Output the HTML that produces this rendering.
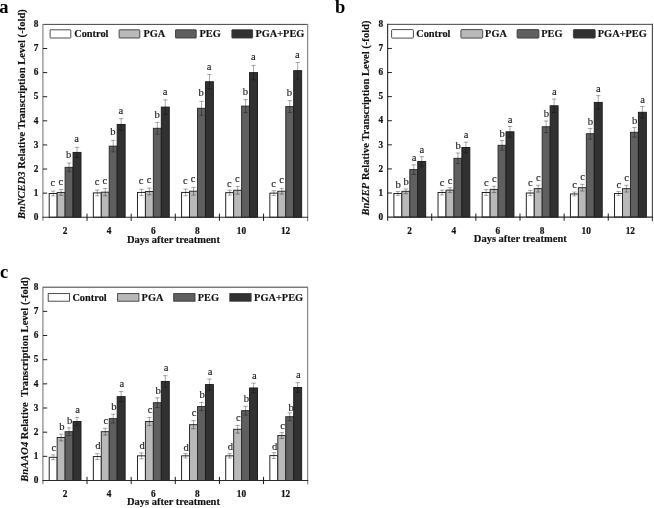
<!DOCTYPE html>
<html lang="en">
<head>
<meta charset="utf-8">
<title>Relative transcription levels</title>
<style>
html,body{margin:0;padding:0;background:#fff;}
body{width:654px;height:508px;overflow:hidden;}
svg{display:block;will-change:transform;}
text{font-family:"Liberation Serif",serif;fill:#111;}
.tk{font-size:9.3px;font-weight:bold;stroke:#111;stroke-width:0.2px;}
.lg{font-size:10.35px;font-weight:bold;stroke:#111;stroke-width:0.15px;}
.ax{font-size:10.5px;font-weight:bold;stroke:#111;stroke-width:0.15px;}
.yt{letter-spacing:0.03px;}
.sig{font-size:10.6px;text-anchor:middle;fill:#1a1a1a;stroke:#1a1a1a;stroke-width:0.12px;}
.pl{font-size:18.5px;font-weight:bold;fill:#000;}
</style>
</head>
<body>
<svg width="654" height="508" viewBox="0 0 654 508">
<rect width="654" height="508" fill="#fff"/>
<path d="M42.9 24.4H307.68" fill="none" stroke="#444" stroke-width="1"/>
<path d="M307.68 23.9V221.35" fill="none" stroke="#7a7a7a" stroke-width="1.1"/>
<rect x="49.2" y="193.51" width="7.95" height="23.74" fill="#ffffff" stroke="#1a1a1a" stroke-width="0.95"/>
<rect x="57.15" y="192.42" width="7.95" height="24.83" fill="#b9b9b9" stroke="#262626" stroke-width="0.95"/>
<rect x="65.1" y="167.35" width="7.95" height="49.9" fill="#5f5f5f" stroke="#2a2a2a" stroke-width="0.95"/>
<rect x="73.05" y="152.4" width="7.95" height="64.85" fill="#313131" stroke="#1c1c1c" stroke-width="0.95"/>
<path d="M53.17 191.09V195.92M50.97 191.09h4.4M50.97 195.92h4.4" fill="none" stroke="#000" stroke-opacity="0.45" stroke-width="0.75"/>
<text x="52.88" y="186.19" class="sig">c</text>
<path d="M61.12 189.53V195.31M58.92 189.53h4.4M58.92 195.31h4.4" fill="none" stroke="#000" stroke-opacity="0.45" stroke-width="0.75"/>
<text x="60.83" y="184.63" class="sig">c</text>
<path d="M69.07 163.01V171.69M66.87 163.01h4.4M66.87 171.69h4.4" fill="none" stroke="#000" stroke-opacity="0.45" stroke-width="0.75"/>
<text x="68.77" y="158.11" class="sig">b</text>
<path d="M77.02 147.34V157.47M74.82 147.34h4.4M74.82 157.47h4.4" fill="none" stroke="#000" stroke-opacity="0.45" stroke-width="0.75"/>
<text x="76.72" y="142.44" class="sig">a</text>
<rect x="93.33" y="192.9" width="7.95" height="24.35" fill="#ffffff" stroke="#1a1a1a" stroke-width="0.95"/>
<rect x="101.28" y="192.18" width="7.95" height="25.07" fill="#b9b9b9" stroke="#262626" stroke-width="0.95"/>
<rect x="109.23" y="146.14" width="7.95" height="71.11" fill="#5f5f5f" stroke="#2a2a2a" stroke-width="0.95"/>
<rect x="117.18" y="124.44" width="7.95" height="92.81" fill="#313131" stroke="#1c1c1c" stroke-width="0.95"/>
<path d="M97.3 190.01V195.8M95.1 190.01h4.4M95.1 195.8h4.4" fill="none" stroke="#000" stroke-opacity="0.45" stroke-width="0.75"/>
<text x="97" y="185.11" class="sig">c</text>
<path d="M105.25 188.56V195.8M103.05 188.56h4.4M103.05 195.8h4.4" fill="none" stroke="#000" stroke-opacity="0.45" stroke-width="0.75"/>
<text x="104.95" y="183.66" class="sig">c</text>
<path d="M113.2 140.35V151.92M111 140.35h4.4M111 151.92h4.4" fill="none" stroke="#000" stroke-opacity="0.45" stroke-width="0.75"/>
<text x="112.91" y="135.45" class="sig">b</text>
<path d="M121.16 118.66V130.23M118.95 118.66h4.4M118.95 130.23h4.4" fill="none" stroke="#000" stroke-opacity="0.45" stroke-width="0.75"/>
<text x="120.86" y="113.76" class="sig">a</text>
<rect x="137.46" y="192.42" width="7.95" height="24.83" fill="#ffffff" stroke="#1a1a1a" stroke-width="0.95"/>
<rect x="145.41" y="191.46" width="7.95" height="25.79" fill="#b9b9b9" stroke="#262626" stroke-width="0.95"/>
<rect x="153.36" y="128.3" width="7.95" height="88.95" fill="#5f5f5f" stroke="#2a2a2a" stroke-width="0.95"/>
<rect x="161.31" y="107.08" width="7.95" height="110.17" fill="#313131" stroke="#1c1c1c" stroke-width="0.95"/>
<path d="M141.44 189.29V195.55M139.24 189.29h4.4M139.24 195.55h4.4" fill="none" stroke="#000" stroke-opacity="0.45" stroke-width="0.75"/>
<text x="141.13" y="184.39" class="sig">c</text>
<path d="M149.38 188.08V194.83M147.19 188.08h4.4M147.19 194.83h4.4" fill="none" stroke="#000" stroke-opacity="0.45" stroke-width="0.75"/>
<text x="149.08" y="183.18" class="sig">c</text>
<path d="M157.34 122.51V134.08M155.14 122.51h4.4M155.14 134.08h4.4" fill="none" stroke="#000" stroke-opacity="0.45" stroke-width="0.75"/>
<text x="157.03" y="117.61" class="sig">b</text>
<path d="M165.28 99.85V114.32M163.09 99.85h4.4M163.09 114.32h4.4" fill="none" stroke="#000" stroke-opacity="0.45" stroke-width="0.75"/>
<text x="164.98" y="94.95" class="sig">a</text>
<rect x="181.59" y="192.42" width="7.95" height="24.83" fill="#ffffff" stroke="#1a1a1a" stroke-width="0.95"/>
<rect x="189.54" y="191.22" width="7.95" height="26.03" fill="#b9b9b9" stroke="#262626" stroke-width="0.95"/>
<rect x="197.49" y="108.29" width="7.95" height="108.96" fill="#5f5f5f" stroke="#2a2a2a" stroke-width="0.95"/>
<rect x="205.44" y="81.77" width="7.95" height="135.48" fill="#313131" stroke="#1c1c1c" stroke-width="0.95"/>
<path d="M185.57 189.05V195.8M183.37 189.05h4.4M183.37 195.8h4.4" fill="none" stroke="#000" stroke-opacity="0.45" stroke-width="0.75"/>
<text x="185.27" y="184.15" class="sig">c</text>
<path d="M193.52 187.36V195.07M191.32 187.36h4.4M191.32 195.07h4.4" fill="none" stroke="#000" stroke-opacity="0.45" stroke-width="0.75"/>
<text x="193.22" y="182.46" class="sig">c</text>
<path d="M201.47 101.3V115.28M199.27 101.3h4.4M199.27 115.28h4.4" fill="none" stroke="#000" stroke-opacity="0.45" stroke-width="0.75"/>
<text x="201.17" y="96.4" class="sig">b</text>
<path d="M209.42 74.54V89M207.22 74.54h4.4M207.22 89h4.4" fill="none" stroke="#000" stroke-opacity="0.45" stroke-width="0.75"/>
<text x="209.12" y="69.64" class="sig">a</text>
<rect x="225.72" y="192.66" width="7.95" height="24.59" fill="#ffffff" stroke="#1a1a1a" stroke-width="0.95"/>
<rect x="233.67" y="190.25" width="7.95" height="27" fill="#b9b9b9" stroke="#262626" stroke-width="0.95"/>
<rect x="241.62" y="106.12" width="7.95" height="111.13" fill="#5f5f5f" stroke="#2a2a2a" stroke-width="0.95"/>
<rect x="249.57" y="72.61" width="7.95" height="144.64" fill="#313131" stroke="#1c1c1c" stroke-width="0.95"/>
<path d="M229.7 190.25V195.07M227.5 190.25h4.4M227.5 195.07h4.4" fill="none" stroke="#000" stroke-opacity="0.45" stroke-width="0.75"/>
<text x="229.4" y="186.55" class="sig">c</text>
<path d="M237.65 186.39V194.11M235.45 186.39h4.4M235.45 194.11h4.4" fill="none" stroke="#000" stroke-opacity="0.45" stroke-width="0.75"/>
<text x="237.34" y="182.49" class="sig">c</text>
<path d="M245.6 99.61V112.63M243.4 99.61h4.4M243.4 112.63h4.4" fill="none" stroke="#000" stroke-opacity="0.45" stroke-width="0.75"/>
<text x="245.3" y="94.71" class="sig">b</text>
<path d="M253.55 65.38V79.84M251.35 65.38h4.4M251.35 79.84h4.4" fill="none" stroke="#000" stroke-opacity="0.45" stroke-width="0.75"/>
<text x="253.25" y="60.48" class="sig">a</text>
<rect x="269.85" y="193.14" width="7.95" height="24.11" fill="#ffffff" stroke="#1a1a1a" stroke-width="0.95"/>
<rect x="277.8" y="191.22" width="7.95" height="26.03" fill="#b9b9b9" stroke="#262626" stroke-width="0.95"/>
<rect x="285.75" y="106.6" width="7.95" height="110.65" fill="#5f5f5f" stroke="#2a2a2a" stroke-width="0.95"/>
<rect x="293.7" y="70.68" width="7.95" height="146.57" fill="#313131" stroke="#1c1c1c" stroke-width="0.95"/>
<path d="M273.83 190.73V195.55M271.63 190.73h4.4M271.63 195.55h4.4" fill="none" stroke="#000" stroke-opacity="0.45" stroke-width="0.75"/>
<text x="273.53" y="186.73" class="sig">c</text>
<path d="M281.78 188.32V194.11M279.58 188.32h4.4M279.58 194.11h4.4" fill="none" stroke="#000" stroke-opacity="0.45" stroke-width="0.75"/>
<text x="281.48" y="183.42" class="sig">c</text>
<path d="M289.73 100.58V112.63M287.53 100.58h4.4M287.53 112.63h4.4" fill="none" stroke="#000" stroke-opacity="0.45" stroke-width="0.75"/>
<text x="289.43" y="95.68" class="sig">b</text>
<path d="M297.68 62.49V78.88M295.48 62.49h4.4M295.48 78.88h4.4" fill="none" stroke="#000" stroke-opacity="0.45" stroke-width="0.75"/>
<text x="297.38" y="57.59" class="sig">a</text>
<path d="M42.9 23.9V220.85" fill="none" stroke="#858585" stroke-width="1.2"/>
<path d="M42.4 217.25H308.18" fill="none" stroke="#2b2b2b" stroke-width="1.1"/>
<text x="38.4" y="219.95" class="tk" text-anchor="end">0</text>
<path d="M42.9 193.14h4.3" stroke="#222" stroke-width="1"/>
<text x="38.4" y="195.84" class="tk" text-anchor="end">1</text>
<path d="M42.9 169.04h4.3" stroke="#222" stroke-width="1"/>
<text x="38.4" y="171.74" class="tk" text-anchor="end">2</text>
<path d="M42.9 144.93h4.3" stroke="#222" stroke-width="1"/>
<text x="38.4" y="147.63" class="tk" text-anchor="end">3</text>
<path d="M42.9 120.83h4.3" stroke="#222" stroke-width="1"/>
<text x="38.4" y="123.53" class="tk" text-anchor="end">4</text>
<path d="M42.9 96.72h4.3" stroke="#222" stroke-width="1"/>
<text x="38.4" y="99.42" class="tk" text-anchor="end">5</text>
<path d="M42.9 72.61h4.3" stroke="#222" stroke-width="1"/>
<text x="38.4" y="75.31" class="tk" text-anchor="end">6</text>
<path d="M42.9 48.51h4.3" stroke="#222" stroke-width="1"/>
<text x="38.4" y="51.21" class="tk" text-anchor="end">7</text>
<text x="38.4" y="27.1" class="tk" text-anchor="end">8</text>
<path d="M87.03 213.65V220.85" stroke="#1a1a1a" stroke-width="1"/>
<path d="M131.16 213.65V220.85" stroke="#1a1a1a" stroke-width="1"/>
<path d="M175.29 213.65V220.85" stroke="#1a1a1a" stroke-width="1"/>
<path d="M219.42 213.65V220.85" stroke="#1a1a1a" stroke-width="1"/>
<path d="M263.55 213.65V220.85" stroke="#1a1a1a" stroke-width="1"/>
<text x="64.97" y="233.85" class="tk" text-anchor="middle">2</text>
<text x="109.09" y="233.85" class="tk" text-anchor="middle">4</text>
<text x="153.22" y="233.85" class="tk" text-anchor="middle">6</text>
<text x="197.36" y="233.85" class="tk" text-anchor="middle">8</text>
<text x="241.49" y="233.85" class="tk" text-anchor="middle">10</text>
<text x="285.62" y="233.85" class="tk" text-anchor="middle">12</text>
<text x="173.49" y="242.65" class="ax" text-anchor="middle">Days after treatment</text>
<text transform="translate(25.2 218.95) rotate(-90)" class="ax yt" xml:space="preserve"><tspan font-style="italic">BnNCED3</tspan> Relative Transcription Level (-fold)</text>
<rect x="50.1" y="29.8" width="20.7" height="8.2" rx="0.4" fill="#ffffff" stroke="#3a3a3a" stroke-width="0.9"/>
<text x="74.2" y="37.3" class="lg">Control</text>
<rect x="119.1" y="29.8" width="20.7" height="8.2" rx="0.4" fill="#b9b9b9" stroke="#3a3a3a" stroke-width="0.9"/>
<text x="143.5" y="37.3" class="lg">PGA</text>
<rect x="175.5" y="29.8" width="20.7" height="8.2" rx="0.4" fill="#5f5f5f" stroke="#3a3a3a" stroke-width="0.9"/>
<text x="199.5" y="37.3" class="lg">PEG</text>
<rect x="231.9" y="29.8" width="20.7" height="8.2" rx="0.4" fill="#313131" stroke="#3a3a3a" stroke-width="0.9"/>
<text x="255.4" y="37.3" class="lg">PGA+PEG</text>
<text x="-0.7" y="13.2" class="pl">a</text>
<path d="M387.6 24.35H652.38" fill="none" stroke="#444" stroke-width="1"/>
<path d="M652.38 23.85V221.2" fill="none" stroke="#444" stroke-width="1.1"/>
<rect x="393.9" y="193.49" width="7.95" height="23.61" fill="#ffffff" stroke="#1a1a1a" stroke-width="0.95"/>
<rect x="401.85" y="191.32" width="7.95" height="25.78" fill="#b9b9b9" stroke="#262626" stroke-width="0.95"/>
<rect x="409.8" y="169.64" width="7.95" height="47.46" fill="#5f5f5f" stroke="#2a2a2a" stroke-width="0.95"/>
<rect x="417.75" y="161.44" width="7.95" height="55.66" fill="#313131" stroke="#1c1c1c" stroke-width="0.95"/>
<path d="M397.88 191.56V195.42M395.68 191.56h4.4M395.68 195.42h4.4" fill="none" stroke="#000" stroke-opacity="0.45" stroke-width="0.75"/>
<text x="398.08" y="187.66" class="sig">b</text>
<path d="M405.83 188.91V193.73M403.63 188.91h4.4M403.63 193.73h4.4" fill="none" stroke="#000" stroke-opacity="0.45" stroke-width="0.75"/>
<text x="406.03" y="185.01" class="sig">b</text>
<path d="M413.78 164.82V174.45M411.58 164.82h4.4M411.58 174.45h4.4" fill="none" stroke="#000" stroke-opacity="0.45" stroke-width="0.75"/>
<text x="413.98" y="160.92" class="sig">a</text>
<path d="M421.73 156.62V166.26M419.53 156.62h4.4M419.53 166.26h4.4" fill="none" stroke="#000" stroke-opacity="0.45" stroke-width="0.75"/>
<text x="421.93" y="152.72" class="sig">a</text>
<rect x="438.03" y="192.52" width="7.95" height="24.58" fill="#ffffff" stroke="#1a1a1a" stroke-width="0.95"/>
<rect x="445.98" y="190.11" width="7.95" height="26.99" fill="#b9b9b9" stroke="#262626" stroke-width="0.95"/>
<rect x="453.93" y="158.31" width="7.95" height="58.79" fill="#5f5f5f" stroke="#2a2a2a" stroke-width="0.95"/>
<rect x="461.88" y="147.47" width="7.95" height="69.63" fill="#313131" stroke="#1c1c1c" stroke-width="0.95"/>
<path d="M442.01 190.11V194.93M439.81 190.11h4.4M439.81 194.93h4.4" fill="none" stroke="#000" stroke-opacity="0.45" stroke-width="0.75"/>
<text x="442.21" y="186.21" class="sig">c</text>
<path d="M449.96 187.71V192.52M447.76 187.71h4.4M447.76 192.52h4.4" fill="none" stroke="#000" stroke-opacity="0.45" stroke-width="0.75"/>
<text x="450.16" y="183.81" class="sig">c</text>
<path d="M457.91 153.01V163.61M455.71 153.01h4.4M455.71 163.61h4.4" fill="none" stroke="#000" stroke-opacity="0.45" stroke-width="0.75"/>
<text x="458.11" y="149.11" class="sig">b</text>
<path d="M465.86 142.17V152.77M463.66 142.17h4.4M463.66 152.77h4.4" fill="none" stroke="#000" stroke-opacity="0.45" stroke-width="0.75"/>
<text x="466.06" y="138.27" class="sig">a</text>
<rect x="482.16" y="192.52" width="7.95" height="24.58" fill="#ffffff" stroke="#1a1a1a" stroke-width="0.95"/>
<rect x="490.11" y="189.39" width="7.95" height="27.71" fill="#b9b9b9" stroke="#262626" stroke-width="0.95"/>
<rect x="498.06" y="145.3" width="7.95" height="71.8" fill="#5f5f5f" stroke="#2a2a2a" stroke-width="0.95"/>
<rect x="506.01" y="131.81" width="7.95" height="85.29" fill="#313131" stroke="#1c1c1c" stroke-width="0.95"/>
<path d="M486.14 189.63V195.42M483.94 189.63h4.4M483.94 195.42h4.4" fill="none" stroke="#000" stroke-opacity="0.45" stroke-width="0.75"/>
<text x="486.34" y="185.73" class="sig">c</text>
<path d="M494.09 186.26V192.52M491.89 186.26h4.4M491.89 192.52h4.4" fill="none" stroke="#000" stroke-opacity="0.45" stroke-width="0.75"/>
<text x="494.29" y="182.36" class="sig">c</text>
<path d="M502.04 140.48V150.12M499.84 140.48h4.4M499.84 150.12h4.4" fill="none" stroke="#000" stroke-opacity="0.45" stroke-width="0.75"/>
<text x="502.24" y="136.58" class="sig">b</text>
<path d="M509.99 126.51V137.11M507.79 126.51h4.4M507.79 137.11h4.4" fill="none" stroke="#000" stroke-opacity="0.45" stroke-width="0.75"/>
<text x="510.19" y="122.61" class="sig">a</text>
<rect x="526.29" y="193.01" width="7.95" height="24.09" fill="#ffffff" stroke="#1a1a1a" stroke-width="0.95"/>
<rect x="534.24" y="188.67" width="7.95" height="28.43" fill="#b9b9b9" stroke="#262626" stroke-width="0.95"/>
<rect x="542.19" y="126.75" width="7.95" height="90.35" fill="#5f5f5f" stroke="#2a2a2a" stroke-width="0.95"/>
<rect x="550.14" y="105.79" width="7.95" height="111.31" fill="#313131" stroke="#1c1c1c" stroke-width="0.95"/>
<path d="M530.26 190.36V195.66M528.06 190.36h4.4M528.06 195.66h4.4" fill="none" stroke="#000" stroke-opacity="0.45" stroke-width="0.75"/>
<text x="530.47" y="186.46" class="sig">c</text>
<path d="M538.22 185.3V192.04M536.01 185.3h4.4M536.01 192.04h4.4" fill="none" stroke="#000" stroke-opacity="0.45" stroke-width="0.75"/>
<text x="538.42" y="181.4" class="sig">c</text>
<path d="M546.16 120.97V132.53M543.96 120.97h4.4M543.96 132.53h4.4" fill="none" stroke="#000" stroke-opacity="0.45" stroke-width="0.75"/>
<text x="546.37" y="117.07" class="sig">b</text>
<path d="M554.12 99.04V112.53M551.91 99.04h4.4M551.91 112.53h4.4" fill="none" stroke="#000" stroke-opacity="0.45" stroke-width="0.75"/>
<text x="554.32" y="95.14" class="sig">a</text>
<rect x="570.42" y="193.97" width="7.95" height="23.13" fill="#ffffff" stroke="#1a1a1a" stroke-width="0.95"/>
<rect x="578.37" y="187.71" width="7.95" height="29.39" fill="#b9b9b9" stroke="#262626" stroke-width="0.95"/>
<rect x="586.32" y="133.74" width="7.95" height="83.36" fill="#5f5f5f" stroke="#2a2a2a" stroke-width="0.95"/>
<rect x="594.27" y="102.41" width="7.95" height="114.69" fill="#313131" stroke="#1c1c1c" stroke-width="0.95"/>
<path d="M574.39 192.04V195.9M572.19 192.04h4.4M572.19 195.9h4.4" fill="none" stroke="#000" stroke-opacity="0.45" stroke-width="0.75"/>
<text x="574.6" y="188.14" class="sig">c</text>
<path d="M582.35 184.33V191.08M580.14 184.33h4.4M580.14 191.08h4.4" fill="none" stroke="#000" stroke-opacity="0.45" stroke-width="0.75"/>
<text x="582.55" y="180.43" class="sig">c</text>
<path d="M590.29 128.44V139.04M588.09 128.44h4.4M588.09 139.04h4.4" fill="none" stroke="#000" stroke-opacity="0.45" stroke-width="0.75"/>
<text x="590.5" y="124.53" class="sig">b</text>
<path d="M598.25 95.67V109.16M596.04 95.67h4.4M596.04 109.16h4.4" fill="none" stroke="#000" stroke-opacity="0.45" stroke-width="0.75"/>
<text x="598.45" y="91.77" class="sig">a</text>
<rect x="614.55" y="193.49" width="7.95" height="23.61" fill="#ffffff" stroke="#1a1a1a" stroke-width="0.95"/>
<rect x="622.5" y="188.67" width="7.95" height="28.43" fill="#b9b9b9" stroke="#262626" stroke-width="0.95"/>
<rect x="630.45" y="132.29" width="7.95" height="84.81" fill="#5f5f5f" stroke="#2a2a2a" stroke-width="0.95"/>
<rect x="638.4" y="112.29" width="7.95" height="104.81" fill="#313131" stroke="#1c1c1c" stroke-width="0.95"/>
<path d="M618.52 191.56V195.42M616.32 191.56h4.4M616.32 195.42h4.4" fill="none" stroke="#000" stroke-opacity="0.45" stroke-width="0.75"/>
<text x="618.73" y="187.66" class="sig">c</text>
<path d="M626.48 185.3V192.04M624.27 185.3h4.4M624.27 192.04h4.4" fill="none" stroke="#000" stroke-opacity="0.45" stroke-width="0.75"/>
<text x="626.68" y="181.4" class="sig">c</text>
<path d="M634.42 127.47V137.11M632.22 127.47h4.4M632.22 137.11h4.4" fill="none" stroke="#000" stroke-opacity="0.45" stroke-width="0.75"/>
<text x="634.62" y="123.57" class="sig">b</text>
<path d="M642.38 106.51V118.07M640.17 106.51h4.4M640.17 118.07h4.4" fill="none" stroke="#000" stroke-opacity="0.45" stroke-width="0.75"/>
<text x="642.58" y="102.61" class="sig">a</text>
<path d="M387.6 23.85V220.7" fill="none" stroke="#3a3a3a" stroke-width="1.2"/>
<path d="M387.1 217.1H652.88" fill="none" stroke="#2b2b2b" stroke-width="1.1"/>
<text x="383.1" y="219.8" class="tk" text-anchor="end">0</text>
<path d="M387.6 193.01h4.3" stroke="#222" stroke-width="1"/>
<text x="383.1" y="195.71" class="tk" text-anchor="end">1</text>
<path d="M387.6 168.91h4.3" stroke="#222" stroke-width="1"/>
<text x="383.1" y="171.61" class="tk" text-anchor="end">2</text>
<path d="M387.6 144.82h4.3" stroke="#222" stroke-width="1"/>
<text x="383.1" y="147.52" class="tk" text-anchor="end">3</text>
<path d="M387.6 120.72h4.3" stroke="#222" stroke-width="1"/>
<text x="383.1" y="123.42" class="tk" text-anchor="end">4</text>
<path d="M387.6 96.63h4.3" stroke="#222" stroke-width="1"/>
<text x="383.1" y="99.33" class="tk" text-anchor="end">5</text>
<path d="M387.6 72.54h4.3" stroke="#222" stroke-width="1"/>
<text x="383.1" y="75.24" class="tk" text-anchor="end">6</text>
<path d="M387.6 48.44h4.3" stroke="#222" stroke-width="1"/>
<text x="383.1" y="51.14" class="tk" text-anchor="end">7</text>
<text x="383.1" y="27.05" class="tk" text-anchor="end">8</text>
<path d="M431.73 213.5V220.7" stroke="#1a1a1a" stroke-width="1"/>
<path d="M475.86 213.5V220.7" stroke="#1a1a1a" stroke-width="1"/>
<path d="M519.99 213.5V220.7" stroke="#1a1a1a" stroke-width="1"/>
<path d="M564.12 213.5V220.7" stroke="#1a1a1a" stroke-width="1"/>
<path d="M608.25 213.5V220.7" stroke="#1a1a1a" stroke-width="1"/>
<text x="409.67" y="233.7" class="tk" text-anchor="middle">2</text>
<text x="453.8" y="233.7" class="tk" text-anchor="middle">4</text>
<text x="497.93" y="233.7" class="tk" text-anchor="middle">6</text>
<text x="542.06" y="233.7" class="tk" text-anchor="middle">8</text>
<text x="586.19" y="233.7" class="tk" text-anchor="middle">10</text>
<text x="630.32" y="233.7" class="tk" text-anchor="middle">12</text>
<text x="520.29" y="242.2" class="ax" text-anchor="middle">Days after treatment</text>
<text transform="translate(369.1 215.6) rotate(-90)" class="ax yt" xml:space="preserve"><tspan font-style="italic">BnZEP</tspan> Relative Transcription Level (-fold)</text>
<rect x="391.6" y="29.6" width="21.8" height="8.5" rx="0.8" fill="#ffffff" stroke="#3a3a3a" stroke-width="0.9"/>
<text x="416.2" y="37.2" class="lg">Control</text>
<rect x="460.9" y="29.6" width="21.8" height="8.5" rx="0.8" fill="#b9b9b9" stroke="#3a3a3a" stroke-width="0.9"/>
<text x="485.1" y="37.2" class="lg">PGA</text>
<rect x="517.1" y="29.6" width="21.8" height="8.5" rx="0.8" fill="#5f5f5f" stroke="#3a3a3a" stroke-width="0.9"/>
<text x="541.3" y="37.2" class="lg">PEG</text>
<rect x="573.4" y="29.6" width="21.8" height="8.5" rx="0.8" fill="#313131" stroke="#3a3a3a" stroke-width="0.9"/>
<text x="597.8" y="37.2" class="lg">PGA+PEG</text>
<text x="335" y="13.2" class="pl">b</text>
<path d="M42.9 287.2H307.68" fill="none" stroke="#3c3c3c" stroke-width="1"/>
<path d="M307.68 286.7V484.6" fill="none" stroke="#7a7a7a" stroke-width="1.1"/>
<rect x="49.2" y="457.3" width="7.95" height="23.2" fill="#ffffff" stroke="#1a1a1a" stroke-width="0.95"/>
<rect x="57.15" y="437.49" width="7.95" height="43.01" fill="#b9b9b9" stroke="#262626" stroke-width="0.95"/>
<rect x="65.1" y="431.69" width="7.95" height="48.81" fill="#5f5f5f" stroke="#2a2a2a" stroke-width="0.95"/>
<rect x="73.05" y="421.54" width="7.95" height="58.96" fill="#313131" stroke="#1c1c1c" stroke-width="0.95"/>
<path d="M53.17 454.89V459.72M50.97 454.89h4.4M50.97 459.72h4.4" fill="none" stroke="#000" stroke-opacity="0.45" stroke-width="0.75"/>
<text x="53.88" y="450.59" class="sig">c</text>
<path d="M61.12 434.11V440.87M58.92 434.11h4.4M58.92 440.87h4.4" fill="none" stroke="#000" stroke-opacity="0.45" stroke-width="0.75"/>
<text x="61.83" y="429.81" class="sig">b</text>
<path d="M69.07 427.83V435.56M66.87 427.83h4.4M66.87 435.56h4.4" fill="none" stroke="#000" stroke-opacity="0.45" stroke-width="0.75"/>
<text x="69.77" y="423.53" class="sig">b</text>
<path d="M77.02 417.44V425.65M74.82 417.44h4.4M74.82 425.65h4.4" fill="none" stroke="#000" stroke-opacity="0.45" stroke-width="0.75"/>
<text x="77.72" y="413.14" class="sig">a</text>
<rect x="93.33" y="456.58" width="7.95" height="23.92" fill="#ffffff" stroke="#1a1a1a" stroke-width="0.95"/>
<rect x="101.28" y="431.69" width="7.95" height="48.81" fill="#b9b9b9" stroke="#262626" stroke-width="0.95"/>
<rect x="109.23" y="418.64" width="7.95" height="61.86" fill="#5f5f5f" stroke="#2a2a2a" stroke-width="0.95"/>
<rect x="117.18" y="396.66" width="7.95" height="83.84" fill="#313131" stroke="#1c1c1c" stroke-width="0.95"/>
<path d="M97.3 453.68V459.48M95.1 453.68h4.4M95.1 459.48h4.4" fill="none" stroke="#000" stroke-opacity="0.45" stroke-width="0.75"/>
<text x="98" y="449.38" class="sig">d</text>
<path d="M105.25 428.31V435.07M103.05 428.31h4.4M103.05 435.07h4.4" fill="none" stroke="#000" stroke-opacity="0.45" stroke-width="0.75"/>
<text x="105.95" y="424.01" class="sig">c</text>
<path d="M113.2 414.29V422.99M111 414.29h4.4M111 422.99h4.4" fill="none" stroke="#000" stroke-opacity="0.45" stroke-width="0.75"/>
<text x="113.91" y="409.99" class="sig">b</text>
<path d="M121.16 391.58V401.73M118.95 391.58h4.4M118.95 401.73h4.4" fill="none" stroke="#000" stroke-opacity="0.45" stroke-width="0.75"/>
<text x="121.86" y="387.28" class="sig">a</text>
<rect x="137.46" y="455.85" width="7.95" height="24.65" fill="#ffffff" stroke="#1a1a1a" stroke-width="0.95"/>
<rect x="145.41" y="421.54" width="7.95" height="58.96" fill="#b9b9b9" stroke="#262626" stroke-width="0.95"/>
<rect x="153.36" y="402.7" width="7.95" height="77.8" fill="#5f5f5f" stroke="#2a2a2a" stroke-width="0.95"/>
<rect x="161.31" y="381.43" width="7.95" height="99.07" fill="#313131" stroke="#1c1c1c" stroke-width="0.95"/>
<path d="M141.44 452.95V458.75M139.24 452.95h4.4M139.24 458.75h4.4" fill="none" stroke="#000" stroke-opacity="0.45" stroke-width="0.75"/>
<text x="142.13" y="448.65" class="sig">d</text>
<path d="M149.38 417.44V425.65M147.19 417.44h4.4M147.19 425.65h4.4" fill="none" stroke="#000" stroke-opacity="0.45" stroke-width="0.75"/>
<text x="150.08" y="413.14" class="sig">c</text>
<path d="M157.34 397.86V407.53M155.14 397.86h4.4M155.14 407.53h4.4" fill="none" stroke="#000" stroke-opacity="0.45" stroke-width="0.75"/>
<text x="158.03" y="393.56" class="sig">b</text>
<path d="M165.28 375.63V387.23M163.09 375.63h4.4M163.09 387.23h4.4" fill="none" stroke="#000" stroke-opacity="0.45" stroke-width="0.75"/>
<text x="165.98" y="371.33" class="sig">a</text>
<rect x="181.59" y="455.85" width="7.95" height="24.65" fill="#ffffff" stroke="#1a1a1a" stroke-width="0.95"/>
<rect x="189.54" y="424.68" width="7.95" height="55.82" fill="#b9b9b9" stroke="#262626" stroke-width="0.95"/>
<rect x="197.49" y="406.56" width="7.95" height="73.94" fill="#5f5f5f" stroke="#2a2a2a" stroke-width="0.95"/>
<rect x="205.44" y="384.57" width="7.95" height="95.93" fill="#313131" stroke="#1c1c1c" stroke-width="0.95"/>
<path d="M185.57 453.68V458.03M183.37 453.68h4.4M183.37 458.03h4.4" fill="none" stroke="#000" stroke-opacity="0.45" stroke-width="0.75"/>
<text x="186.27" y="450.58" class="sig">d</text>
<path d="M193.52 420.58V428.79M191.32 420.58h4.4M191.32 428.79h4.4" fill="none" stroke="#000" stroke-opacity="0.45" stroke-width="0.75"/>
<text x="194.22" y="416.28" class="sig">c</text>
<path d="M201.47 402.46V410.67M199.27 402.46h4.4M199.27 410.67h4.4" fill="none" stroke="#000" stroke-opacity="0.45" stroke-width="0.75"/>
<text x="202.17" y="398.16" class="sig">b</text>
<path d="M209.42 379.02V390.13M207.22 379.02h4.4M207.22 390.13h4.4" fill="none" stroke="#000" stroke-opacity="0.45" stroke-width="0.75"/>
<text x="210.12" y="374.72" class="sig">a</text>
<rect x="225.72" y="455.85" width="7.95" height="24.65" fill="#ffffff" stroke="#1a1a1a" stroke-width="0.95"/>
<rect x="233.67" y="429.28" width="7.95" height="51.22" fill="#b9b9b9" stroke="#262626" stroke-width="0.95"/>
<rect x="241.62" y="410.67" width="7.95" height="69.83" fill="#5f5f5f" stroke="#2a2a2a" stroke-width="0.95"/>
<rect x="249.57" y="387.96" width="7.95" height="92.54" fill="#313131" stroke="#1c1c1c" stroke-width="0.95"/>
<path d="M229.7 453.68V458.03M227.5 453.68h4.4M227.5 458.03h4.4" fill="none" stroke="#000" stroke-opacity="0.45" stroke-width="0.75"/>
<text x="230.4" y="450.38" class="sig">d</text>
<path d="M237.65 425.41V433.14M235.45 425.41h4.4M235.45 433.14h4.4" fill="none" stroke="#000" stroke-opacity="0.45" stroke-width="0.75"/>
<text x="238.34" y="421.11" class="sig">c</text>
<path d="M245.6 406.32V415.02M243.4 406.32h4.4M243.4 415.02h4.4" fill="none" stroke="#000" stroke-opacity="0.45" stroke-width="0.75"/>
<text x="246.3" y="402.02" class="sig">b</text>
<path d="M253.55 383.13V392.79M251.35 383.13h4.4M251.35 392.79h4.4" fill="none" stroke="#000" stroke-opacity="0.45" stroke-width="0.75"/>
<text x="254.25" y="378.83" class="sig">a</text>
<rect x="269.85" y="455.61" width="7.95" height="24.89" fill="#ffffff" stroke="#1a1a1a" stroke-width="0.95"/>
<rect x="277.8" y="435.56" width="7.95" height="44.94" fill="#b9b9b9" stroke="#262626" stroke-width="0.95"/>
<rect x="285.75" y="416.71" width="7.95" height="63.79" fill="#5f5f5f" stroke="#2a2a2a" stroke-width="0.95"/>
<rect x="293.7" y="387.47" width="7.95" height="93.03" fill="#313131" stroke="#1c1c1c" stroke-width="0.95"/>
<path d="M273.83 452.71V458.51M271.63 452.71h4.4M271.63 458.51h4.4" fill="none" stroke="#000" stroke-opacity="0.45" stroke-width="0.75"/>
<text x="274.53" y="449.91" class="sig">d</text>
<path d="M281.78 432.66V438.46M279.58 432.66h4.4M279.58 438.46h4.4" fill="none" stroke="#000" stroke-opacity="0.45" stroke-width="0.75"/>
<text x="282.48" y="429.36" class="sig">c</text>
<path d="M289.73 412.84V420.58M287.53 412.84h4.4M287.53 420.58h4.4" fill="none" stroke="#000" stroke-opacity="0.45" stroke-width="0.75"/>
<text x="291.03" y="410.54" class="sig">b</text>
<path d="M297.68 382.64V392.31M295.48 382.64h4.4M295.48 392.31h4.4" fill="none" stroke="#000" stroke-opacity="0.45" stroke-width="0.75"/>
<text x="298.38" y="378.34" class="sig">a</text>
<path d="M42.9 286.7V484.1" fill="none" stroke="#858585" stroke-width="1.2"/>
<path d="M42.4 480.5H308.18" fill="none" stroke="#2b2b2b" stroke-width="1.1"/>
<text x="38.4" y="483.2" class="tk" text-anchor="end">0</text>
<path d="M42.9 456.34h4.3" stroke="#222" stroke-width="1"/>
<text x="38.4" y="459.04" class="tk" text-anchor="end">1</text>
<path d="M42.9 432.18h4.3" stroke="#222" stroke-width="1"/>
<text x="38.4" y="434.88" class="tk" text-anchor="end">2</text>
<path d="M42.9 408.01h4.3" stroke="#222" stroke-width="1"/>
<text x="38.4" y="410.71" class="tk" text-anchor="end">3</text>
<path d="M42.9 383.85h4.3" stroke="#222" stroke-width="1"/>
<text x="38.4" y="386.55" class="tk" text-anchor="end">4</text>
<path d="M42.9 359.69h4.3" stroke="#222" stroke-width="1"/>
<text x="38.4" y="362.39" class="tk" text-anchor="end">5</text>
<path d="M42.9 335.52h4.3" stroke="#222" stroke-width="1"/>
<text x="38.4" y="338.22" class="tk" text-anchor="end">6</text>
<path d="M42.9 311.36h4.3" stroke="#222" stroke-width="1"/>
<text x="38.4" y="314.06" class="tk" text-anchor="end">7</text>
<text x="38.4" y="289.9" class="tk" text-anchor="end">8</text>
<path d="M87.03 476.9V484.1" stroke="#1a1a1a" stroke-width="1"/>
<path d="M131.16 476.9V484.1" stroke="#1a1a1a" stroke-width="1"/>
<path d="M175.29 476.9V484.1" stroke="#1a1a1a" stroke-width="1"/>
<path d="M219.42 476.9V484.1" stroke="#1a1a1a" stroke-width="1"/>
<path d="M263.55 476.9V484.1" stroke="#1a1a1a" stroke-width="1"/>
<text x="64.97" y="497.1" class="tk" text-anchor="middle">2</text>
<text x="109.09" y="497.1" class="tk" text-anchor="middle">4</text>
<text x="153.22" y="497.1" class="tk" text-anchor="middle">6</text>
<text x="197.36" y="497.1" class="tk" text-anchor="middle">8</text>
<text x="241.49" y="497.1" class="tk" text-anchor="middle">10</text>
<text x="285.62" y="497.1" class="tk" text-anchor="middle">12</text>
<text x="173.49" y="504.9" class="ax" text-anchor="middle">Days after treatment</text>
<text transform="translate(28 481.7) rotate(-90)" class="ax yt" xml:space="preserve"><tspan font-style="italic">BnAAO4</tspan> Relative  Transcription Level (-fold)</text>
<rect x="48.2" y="293.6" width="21.3" height="7.6" rx="0" fill="#ffffff" stroke="#3a3a3a" stroke-width="0.9"/>
<text x="72.4" y="300.8" class="lg">Control</text>
<rect x="117.6" y="293.6" width="21.3" height="7.6" rx="0" fill="#b9b9b9" stroke="#3a3a3a" stroke-width="0.9"/>
<text x="141.6" y="300.8" class="lg">PGA</text>
<rect x="173.7" y="293.6" width="21.3" height="7.6" rx="0" fill="#5f5f5f" stroke="#3a3a3a" stroke-width="0.9"/>
<text x="197.7" y="300.8" class="lg">PEG</text>
<rect x="229.8" y="293.6" width="21.3" height="7.6" rx="0" fill="#313131" stroke="#3a3a3a" stroke-width="0.9"/>
<text x="254.1" y="300.8" class="lg">PGA+PEG</text>
<text x="0.1" y="277.5" class="pl">c</text>
</svg>
</body>
</html>
